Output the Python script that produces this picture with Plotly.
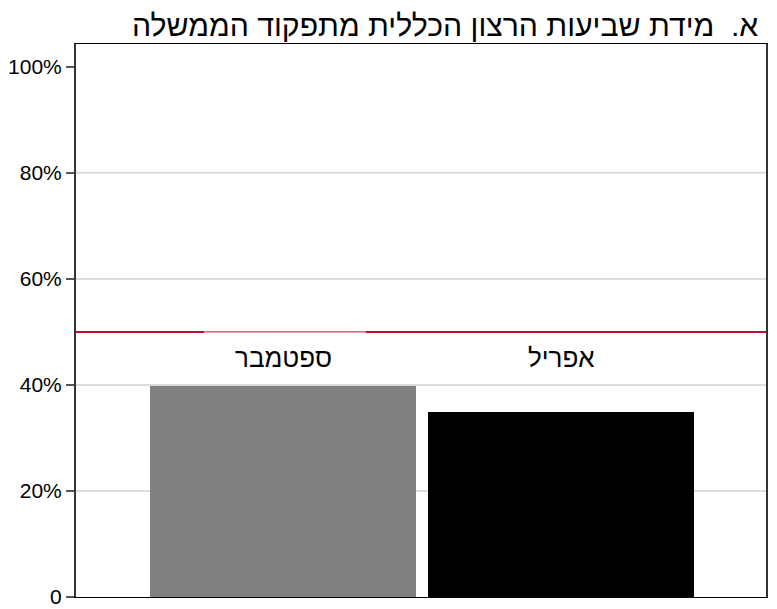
import plotly.graph_objects as go

title = "א.\u00a0 מידת שביעות הרצון הכללית מתפקוד הממשלה"
categories = ["ספטמבר", "אפריל"]
values = [39.8, 34.9]
bar_colors = ["#808080", "#000000"]
tick_vals = [0, 20, 40, 60, 80, 100]
tick_text = ["0", "20%", "40%", "60%", "80%", "100%"]
grid_vals = [20, 40, 60, 80]
threshold = 50
label_y = 45

FONT = "Liberation Sans, Arial, sans-serif"
RED = "#c0122e"

fig = go.Figure()
fig.add_trace(go.Bar(
    x=[0, 1], y=values, width=0.957,
    marker=dict(color=bar_colors, line=dict(width=0)),
    hoverinfo="skip", showlegend=False,
))

shapes = []
for g in grid_vals:
    shapes.append(dict(type="line", xref="paper", yref="y", x0=0, x1=1, y0=g, y1=g,
                       line=dict(color="#dcdcdc", width=2), layer="below"))
# threshold line (thinner in a middle stretch, as in the original)
for (a, b, w) in [(0, 0.1855, 2), (0.1855, 0.42, 1), (0.42, 1, 2)]:
    shapes.append(dict(type="line", xref="paper", yref="y", x0=a, x1=b, y0=threshold, y1=threshold,
                       line=dict(color=RED, width=w), layer="above"))

annotations = []
for i, c in enumerate(categories):
    annotations.append(dict(x=i, y=label_y, xref="x", yref="y", text=c, showarrow=False,
                            font=dict(size=26, color="#000000", family=FONT)))
annotations.append(dict(x=1, y=1, xref="paper", yref="paper", xanchor="right", yanchor="bottom",
                        yshift=0, xshift=-6, text=title, showarrow=False,
                        font=dict(size=30.2, color="#000000", family=FONT)))

fig.update_layout(
    template="none",
    width=769, height=601,
    margin=dict(l=68, r=11, t=36, b=12, pad=0),
    paper_bgcolor="white", plot_bgcolor="white",
    shapes=shapes, annotations=annotations,
    bargap=0,
    xaxis=dict(range=[-0.745, 1.737], showticklabels=False, showgrid=False, zeroline=False,
               automargin=False,
               showline=True, linecolor="#000000", linewidth=1, mirror=True, ticks=""),
    yaxis=dict(range=[0, 104.3], tickvals=tick_vals, ticktext=tick_text, showgrid=False,
               automargin=False,
               zeroline=False, showline=True, linecolor="#333333", linewidth=2, mirror=True,
               ticks="outside", ticklen=8, tickwidth=2, tickcolor="#555555",
               tickfont=dict(size=21, color="#000000", family=FONT)),
)
fig.write_html("out.html")
